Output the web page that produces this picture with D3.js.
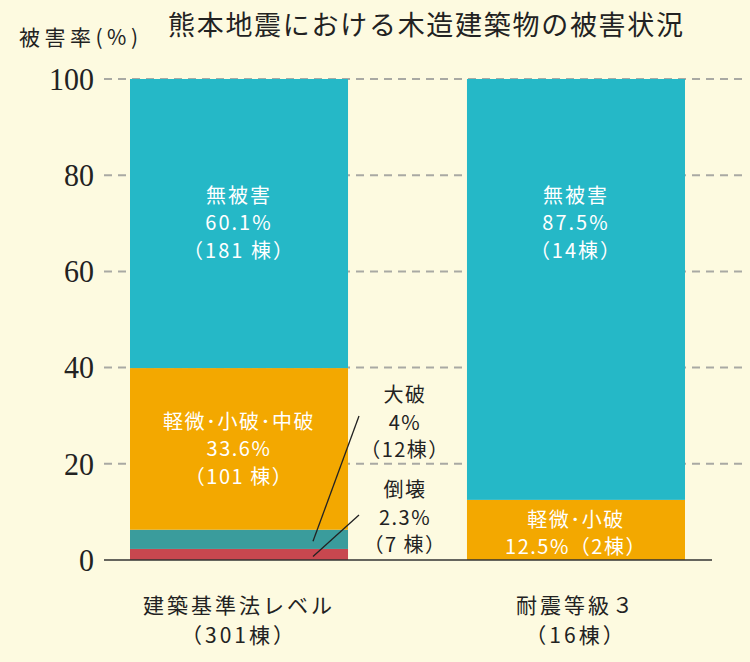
<!DOCTYPE html>
<html><head><meta charset="utf-8">
<script src="https://cdn.jsdelivr.net/npm/d3@7"></script>
<style>
html,body{margin:0;padding:0;background:#fdfae0;}
svg{display:block;}
</style></head>
<body><svg id="c" width="750" height="662"></svg>
<script>
const categories = ["建築基準法レベル", "耐震等級３"];
const categoryCounts = ["（301棟）", "（16棟）"];
const seriesNames = ["倒壊", "大破", "軽微・小破・中破", "無被害"];
const collapse = [2.3, 0];
const heavy = [4, 0];
const moderate = [33.6, 12.5];
const noDamage = [60.1, 87.5];
const yTicks = [0, 20, 40, 60, 80, 100];
const colors = ["#c8474f", "#3a9c9c", "#f3a800", "#25b8c7"];

const svg = d3.select("#c");
const jp = "'Noto Sans CJK JP', sans-serif";
const y = d3.scaleLinear().domain([0, 100]).range([560, 79]);
const x = d3.scaleBand().domain(categories).range([130, 685]).paddingInner(0.353).paddingOuter(0);

// gridlines
svg.append("g").selectAll("line").data(yTicks.filter(d => d > 0)).join("line")
  .attr("x1", 104).attr("x2", 742)
  .attr("y1", d => y(d)).attr("y2", d => y(d))
  .attr("stroke", "#a9a9a3").attr("stroke-width", 2).attr("stroke-dasharray", "8,6");

// y tick labels
svg.append("g").selectAll("text").data(yTicks).join("text")
  .attr("x", 94).attr("y", d => y(d)).attr("dy", "0.35em")
  .attr("text-anchor", "end")
  .attr("font-family", "'Liberation Serif', serif").attr("font-size", 31)
  .attr("textLength", d => String(d).length * 15).attr("lengthAdjust", "spacingAndGlyphs")
  .attr("fill", "#222").text(d => d);

// stacked data
const table = categories.map((c, i) => ({cat: c, s0: collapse[i], s1: heavy[i], s2: moderate[i], s3: noDamage[i]}));
const stack = d3.stack().keys(["s0", "s1", "s2", "s3"]);
const layers = stack(table);
svg.append("g").selectAll("g").data(layers).join("g")
  .attr("fill", (d, i) => colors[i])
  .selectAll("rect").data(d => d).join("rect")
  .attr("x", d => x(d.data.cat)).attr("width", x.bandwidth())
  .attr("y", d => y(d[1])).attr("height", d => y(d[0]) - y(d[1]));

// axis baseline
svg.append("line").attr("x1", 104).attr("x2", 712).attr("y1", y(0)).attr("y2", y(0))
  .attr("stroke", "#333").attr("stroke-width", 1.5);

function lines(cx, cy, arr, opts) {
  const t = svg.append("text").attr("text-anchor", "middle")
    .attr("font-family", jp).attr("font-size", opts.size || 20)
    .attr("fill", opts.fill || "#222")
    .attr("letter-spacing", opts.ls || 1);
  arr.forEach((s, i) => t.append("tspan").attr("x", cx).attr("y", cy + i * (opts.lh || 27.5)).text(s));
}

const cx0 = x(categories[0]) + x.bandwidth() / 2;
const cx1 = x(categories[1]) + x.bandwidth() / 2;

// in-bar labels
const topLabelY = y((collapse[0] + heavy[0] + moderate[0] + 100) / 2) - 21;
lines(cx0, topLabelY, ["無被害", noDamage[0] + "%", "（181 棟）"], {fill: "#fff", ls: 2});
lines(cx1, topLabelY, ["無被害", noDamage[1] + "%", "（14棟）"], {fill: "#fff", ls: 2});
lines(cx0, y(collapse[0] + heavy[0] + moderate[0] / 2) - 20, ["軽微･小破･中破", moderate[0] + "%", "（101 棟）"], {fill: "#fff", ls: 1.5});
lines(cx1, y(moderate[1] / 2) - 3, ["軽微･小破", moderate[1] + "%（2棟）"], {fill: "#fff", ls: 1.5});

// outside annotations
const ax = 405;
lines(ax, 402, ["大破", heavy[0] + "%", "（12棟）"], {fill: "#222", ls: 1.5});
lines(ax, 497, ["倒壊", collapse[0] + "%", "（7 棟）"], {fill: "#222", ls: 1.5});
svg.append("line").attr("x1", 359).attr("y1", 416).attr("x2", 313).attr("y2", y(collapse[0] + heavy[0] / 2) + 2)
  .attr("stroke", "#222").attr("stroke-width", 1.3);
svg.append("line").attr("x1", 359).attr("y1", 515).attr("x2", 313).attr("y2", y(collapse[0] / 2) + 2)
  .attr("stroke", "#222").attr("stroke-width", 1.3);

// category labels
categories.forEach((c, i) => {
  const cx = x(c) + x.bandwidth() / 2;
  lines(cx, 613, [c, categoryCounts[i]], {size: 21, ls: 3, lh: 30, fill: "#222"});
});

// title & y-axis title
svg.append("text").attr("x", 168).attr("y", 35).attr("font-family", jp).attr("font-size", 27)
  .attr("fill", "#222")
  .attr("textLength", 515).attr("lengthAdjust", "spacing")
  .text("熊本地震における木造建築物の被害状況");
svg.append("text").attr("x", 19).attr("y", 45).attr("font-family", jp).attr("font-size", 21)
  .attr("fill", "#222")
  .attr("textLength", 119).attr("lengthAdjust", "spacing")
  .text("被害率(%)");
</script></body></html>
